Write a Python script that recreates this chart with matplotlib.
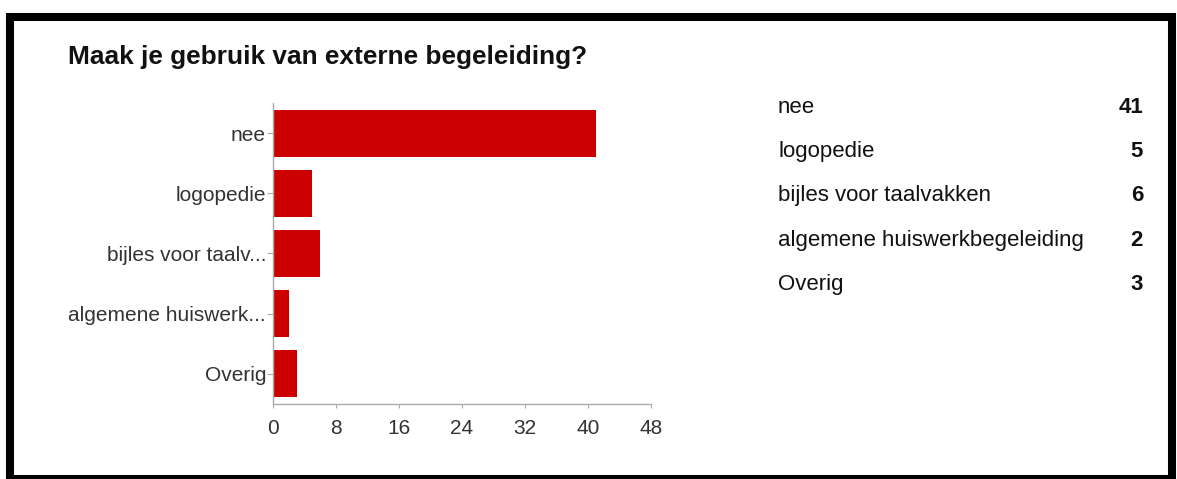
import matplotlib.pyplot as plt
from matplotlib.patches import Rectangle

categories = ["nee", "logopedie", "bijles voor taalvakken",
              "algemene huiswerkbegeleiding", "Overig"]
tick_labels = ["nee", "logopedie", "bijles voor taalv...",
               "algemene huiswerk...", "Overig"]
counts = [41, 5, 6, 2, 3]
x_ticks = [0, 8, 16, 24, 32, 40, 48]

W, H = 1177, 479
plt.rcParams["font.family"] = ["Liberation Sans", "DejaVu Sans"]

fig = plt.figure(figsize=(W / 100, H / 100), dpi=100)

# black frame around the card (bottom edge runs off the picture)
fig.patches.append(Rectangle((10 / W, 0), 1162 / W, 462.5 / H,
                             transform=fig.transFigure, fill=False,
                             edgecolor="black", linewidth=5.8))

fig.text(68 / W, 1 - 64 / H, "Maak je gebruik van externe begeleiding?",
         fontsize=18.9, fontweight="bold", color="#111111", va="baseline")

ax = fig.add_axes([273 / W, 75 / H, 378 / W, 301 / H])
ypos = list(range(len(counts)))
ax.barh(ypos, counts, height=0.78, color="#cc0000")
ax.set_ylim(len(counts) - 0.5, -0.5)
ax.set_xlim(0, 48)
ax.set_xticks(x_ticks)
ax.set_yticks(ypos)
ax.set_yticklabels(tick_labels)
for s in ["top", "right"]:
    ax.spines[s].set_visible(False)
for s in ["left", "bottom"]:
    ax.spines[s].set_color("#aaaaaa")
    ax.spines[s].set_linewidth(1.0)
ax.tick_params(axis="y", length=4, color="#aaaaaa", labelsize=15,
               labelcolor="#333333", pad=1)
ax.tick_params(axis="x", length=3, color="#aaaaaa",
               labelsize=15, labelcolor="#333333", pad=8)

# summary table on the right
for i, (name, n) in enumerate(zip(categories, counts)):
    yb = 1 - (113 + i * 44.2) / H
    fig.text(778 / W, yb, name, fontsize=16, color="#111111", va="baseline")
    fig.text(1143 / W, yb, str(n), fontsize=16, fontweight="bold",
             color="#111111", va="baseline", ha="right")

fig.savefig("out.png", dpi=100)
